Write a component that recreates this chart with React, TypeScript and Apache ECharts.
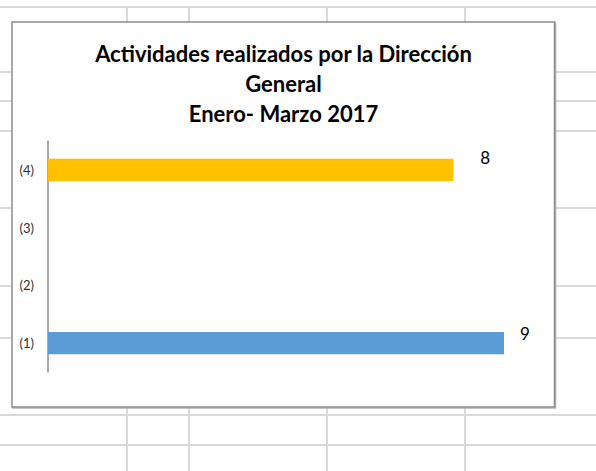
import React, { useEffect, useRef } from "react";
import * as echarts from "echarts";

const categories = ["(1)", "(2)", "(3)", "(4)"];
const values: (number | null)[] = [9, null, null, 8];
const titleLines = ["Actividades realizados por la Dirección", "General", "Enero- Marzo 2017"];
const xMax = 10;

const barColors = ["#5B9BD5", "#5B9BD5", "#FFC000", "#FFC000"];
const labelOffsets: [number, number][] = [[11, -10], [0, 0], [0, 0], [22, -12.5]];

const W = 596;
const H = 471;
const GRID = "#d9d9d9";

function sheetLines() {
  const els: any[] = [];
  const hLine = (y: number, x1: number, x2: number) =>
    els.push({ type: "line", shape: { x1, y1: y, x2, y2: y }, style: { stroke: GRID, lineWidth: 2 }, silent: true });
  const vLine = (x: number, y1: number, y2: number) =>
    els.push({ type: "line", shape: { x1: x, y1, x2: x, y2 }, style: { stroke: GRID, lineWidth: 2 }, silent: true });
  hLine(7, 0, W);
  hLine(415, 0, W);
  hLine(445, 0, W);
  [72, 101, 131, 208, 286, 338].forEach((y) => {
    hLine(y, 0, 12);
    hLine(y, 555, W);
  });
  [127, 189, 327, 465].forEach((x) => {
    vLine(x, 7, 22);
    vLine(x, 408, H);
  });
  return els;
}

export default function App() {
  const ref = useRef<HTMLDivElement>(null);
  useEffect(() => {
    if (!ref.current) return;
    const chart = echarts.init(ref.current, undefined, { renderer: "svg" });
    chart.setOption({
      animation: false,
      backgroundColor: "#ffffff",
      graphic: [
        ...sheetLines(),
        {
          type: "rect",
          shape: { x: 13, y: 23, width: 542.5, height: 385 },
          style: { fill: "rgba(0,0,0,0)", stroke: "#b0b0b0", lineWidth: 1.5 },
          silent: true,
        },
        {
          type: "rect",
          shape: { x: 12, y: 22, width: 542.5, height: 385 },
          style: { fill: "#ffffff", stroke: "#8c8c8c", lineWidth: 1.5 },
          silent: true,
        },
      ],
      title: {
        text: titleLines.join("\n"),
        left: 283.5,
        top: 38,
        textAlign: "center",
        padding: 0,
        textStyle: {
          fontFamily: "Lato",
          fontWeight: "bold",
          fontSize: 22,
          lineHeight: 30,
          color: "#000000",
        },
      },
      grid: { left: 48, top: 141, width: 506.7, height: 231, containLabel: false },
      xAxis: {
        type: "value",
        min: 0,
        max: xMax,
        show: false,
        splitLine: { show: false },
      },
      yAxis: {
        type: "category",
        data: categories,
        axisLine: { show: true, lineStyle: { color: "#8c8c8c", width: 1.5 } },
        axisTick: { show: false },
        axisLabel: {
          margin: 14,
          fontFamily: "Lato",
          fontSize: 13,
          color: "#333333",
        },
        splitLine: { show: false },
      },
      series: [
        {
          type: "bar",
          barWidth: 22.4,
          data: values.map((v, i) => ({
            value: v,
            itemStyle: { color: barColors[i] },
            label: { offset: labelOffsets[i] },
          })),
          label: {
            show: true,
            position: "right",
            distance: 5,
            fontFamily: "Lato",
            fontSize: 17,
            color: "#000000",
          },
        },
      ],
    });
    return () => chart.dispose();
  }, []);
  return <div ref={ref} style={{ position: "absolute", left: 0, top: 0, width: W, height: H }} />;
}
